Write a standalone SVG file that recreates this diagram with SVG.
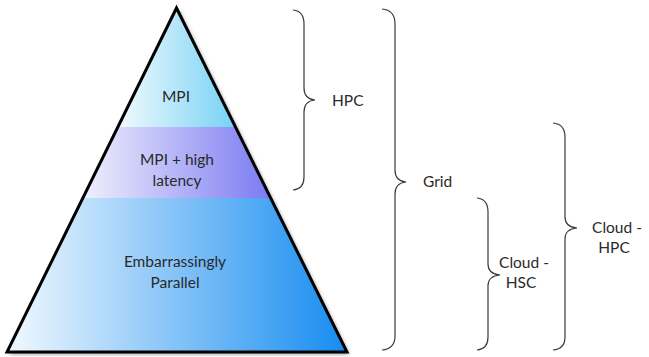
<svg xmlns="http://www.w3.org/2000/svg" width="649" height="357" viewBox="0 0 649 357">
  <defs>
    <linearGradient id="gTop" gradientUnits="userSpaceOnUse" x1="118" y1="0" x2="236" y2="0">
      <stop offset="0" stop-color="#f2fafe"/>
      <stop offset="1" stop-color="#74d2f4"/>
    </linearGradient>
    <linearGradient id="gMid" gradientUnits="userSpaceOnUse" x1="83" y1="0" x2="271" y2="0">
      <stop offset="0" stop-color="#f0f0fd"/>
      <stop offset="1" stop-color="#7a7af2"/>
    </linearGradient>
    <linearGradient id="gBase" gradientUnits="userSpaceOnUse" x1="7" y1="0" x2="347" y2="0">
      <stop offset="0" stop-color="#f2f9ff"/>
      <stop offset="1" stop-color="#168cf0"/>
    </linearGradient>
    <filter id="shadow" x="-10%" y="-10%" width="125%" height="125%">
      <feGaussianBlur in="SourceAlpha" stdDeviation="2"/>
      <feOffset dx="2" dy="2" result="b"/>
      <feComponentTransfer><feFuncA type="linear" slope="0.45"/></feComponentTransfer>
      <feMerge><feMergeNode/><feMergeNode in="SourceGraphic"/></feMerge>
    </filter>
  </defs>
  <style>
    .lbl { font-family: Lato, "Open Sans", "Liberation Sans", sans-serif; font-size: 15.5px; fill: #2a2a2a; }
    .mid { text-anchor: middle; }
    .brace { fill: none; stroke: #3a3a3a; stroke-width: 1.2; }
  </style>

  <!-- pyramid -->
  <g id="pyramid">
    <g filter="url(#shadow)">
      <polygon points="176.5,8 347,352 7,352" fill="#000"/>
    </g>
    <polygon id="band-top" points="176.5,8 235.5,127 117.5,127" fill="url(#gTop)"/>
    <polygon id="band-mid" points="117.5,127 235.5,127 270.7,198 82.5,198" fill="url(#gMid)"/>
    <polygon id="band-base" points="82.5,198 270.7,198 347,352 7,352" fill="url(#gBase)"/>
    <polygon points="176.5,8 347,352 7,352" fill="none" stroke="#000" stroke-width="3" stroke-linejoin="miter"/>
  </g>

  <g id="label-mpi">
    <text class="lbl mid" x="176" y="102">MPI</text>
  </g>
  <g id="label-latency">
    <text class="lbl mid" x="177" y="165">MPI + high</text>
    <text class="lbl mid" x="177" y="186">latency</text>
  </g>
  <g id="label-parallel">
    <text class="lbl mid" x="175" y="267">Embarrassingly</text>
    <text class="lbl mid" x="175" y="288">Parallel</text>
  </g>

  <!-- braces -->
  <g id="connectors">
    <path class="brace" d="M293,10 Q304,11 304,24 L304,88 Q304,99 315,100 Q304,101 304,112 L304,177 Q304,189 293,190"/>
    <path class="brace" d="M382,9 Q395,10 395,24 L395,170 Q395,181 406,182 Q395,183 395,194 L395,336 Q395,349 382,350"/>
    <path class="brace" d="M477,198 Q488,199 488,212 L488,264 Q488,274 500,275 Q488,276 488,286 L488,337 Q488,349 477,350"/>
    <path class="brace" d="M553,123 Q565,124 565,137 L565,217 Q565,227 577,228 Q565,229 565,239 L565,337 Q565,349 553,350"/>
  </g>

  <g id="label-hpc">
    <text class="lbl" x="332" y="106">HPC</text>
  </g>
  <g id="label-grid">
    <text class="lbl" x="423" y="187">Grid</text>
  </g>
  <g id="label-cloud-hsc">
    <text class="lbl mid" x="524" y="268">Cloud -</text>
    <text class="lbl mid" x="521" y="288">HSC</text>
  </g>
  <g id="label-cloud-hpc">
    <text class="lbl mid" x="617" y="233">Cloud -</text>
    <text class="lbl mid" x="614" y="253">HPC</text>
  </g>
</svg>
